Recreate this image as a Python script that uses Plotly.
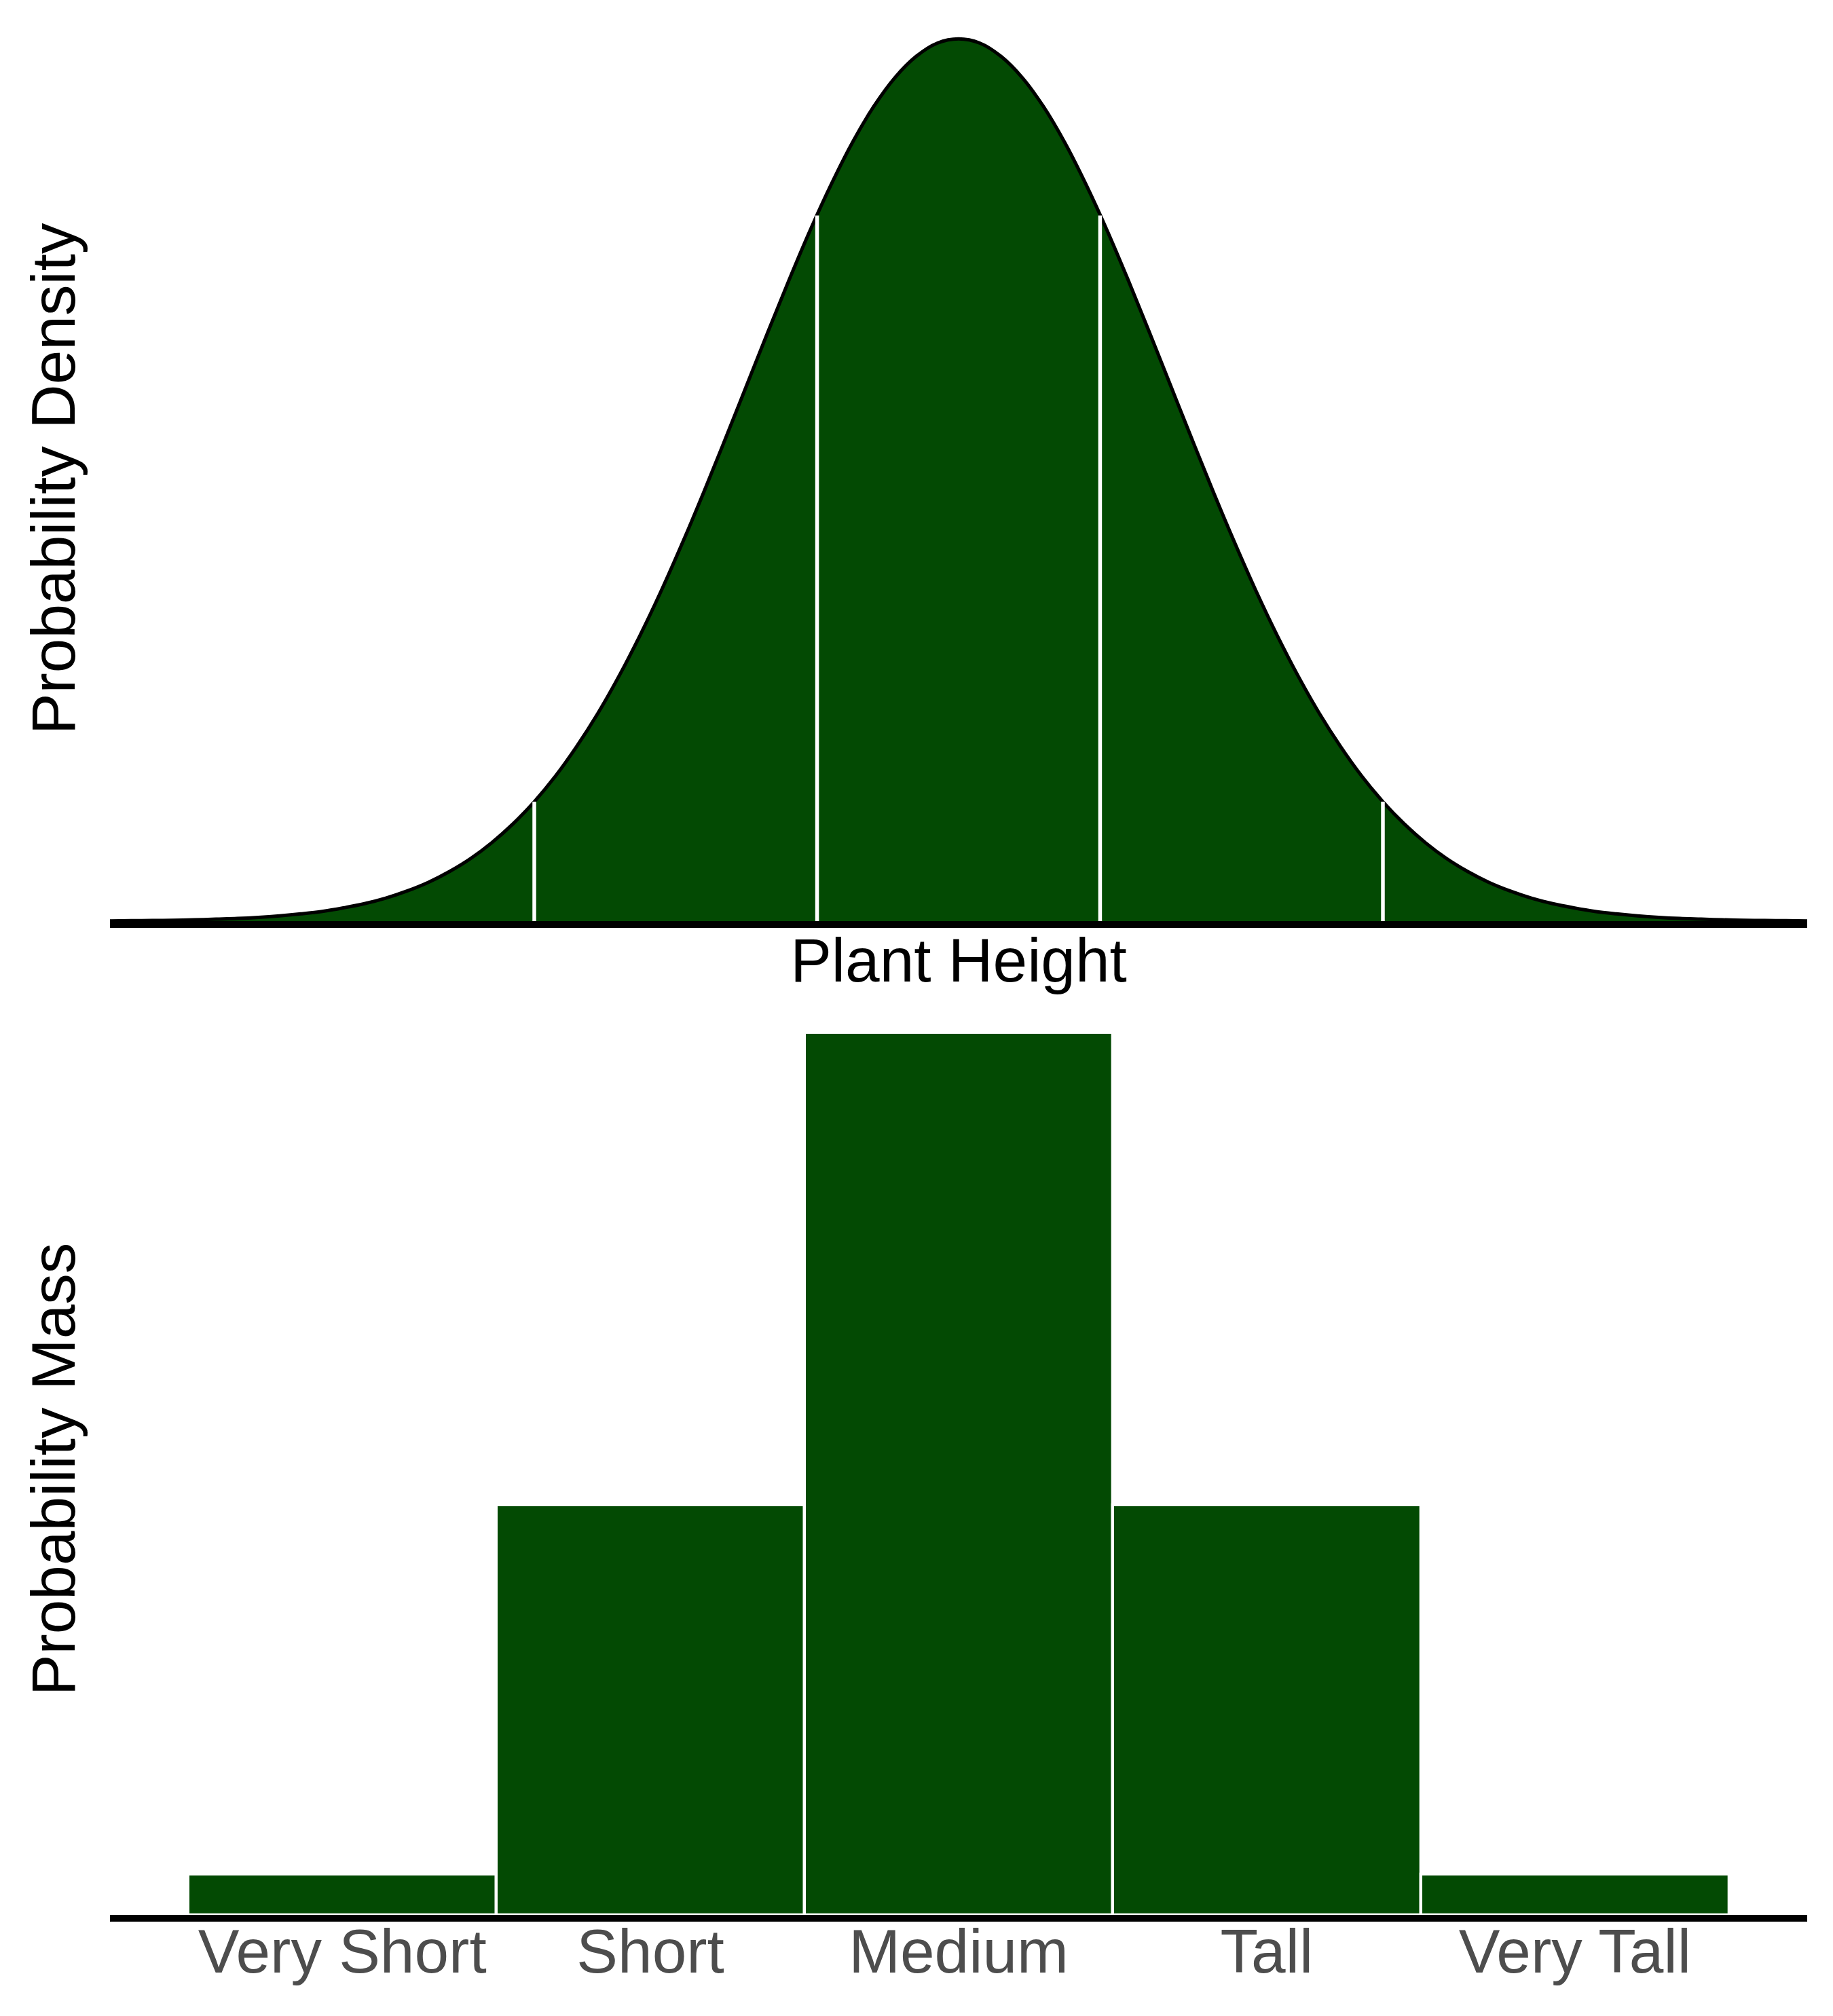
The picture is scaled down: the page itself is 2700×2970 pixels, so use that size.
import plotly.graph_objects as go

# ---- data ----
# standardized plant height and probability density of the curve
height_x = [-4.0, -3.9, -3.8, -3.7, -3.6, -3.5, -3.4, -3.3, -3.2, -3.1,
            -3.0, -2.9, -2.8, -2.7, -2.6, -2.5, -2.4, -2.3, -2.2, -2.1,
            -2.0, -1.9, -1.8, -1.7, -1.6, -1.5, -1.4, -1.3, -1.2, -1.1,
            -1.0, -0.9, -0.8, -0.7, -0.6, -0.5, -0.4, -0.3, -0.2, -0.1,
            0.0,
            0.1, 0.2, 0.3, 0.4, 0.5, 0.6, 0.7, 0.8, 0.9, 1.0,
            1.1, 1.2, 1.3, 1.4, 1.5, 1.6, 1.7, 1.8, 1.9, 2.0,
            2.1, 2.2, 2.3, 2.4, 2.5, 2.6, 2.7, 2.8, 2.9, 3.0,
            3.1, 3.2, 3.3, 3.4, 3.5, 3.6, 3.7, 3.8, 3.9, 4.0]
density_y = [0.0001, 0.0002, 0.0003, 0.0004, 0.0006, 0.0009, 0.0012, 0.0017, 0.0024, 0.0033,
             0.0044, 0.0060, 0.0079, 0.0104, 0.0136, 0.0175, 0.0224, 0.0283, 0.0355, 0.0440,
             0.0540, 0.0656, 0.0790, 0.0940, 0.1109, 0.1295, 0.1497, 0.1714, 0.1942, 0.2179,
             0.2420, 0.2661, 0.2897, 0.3123, 0.3332, 0.3521, 0.3683, 0.3814, 0.3910, 0.3970,
             0.3989,
             0.3970, 0.3910, 0.3814, 0.3683, 0.3521, 0.3332, 0.3123, 0.2897, 0.2661, 0.2420,
             0.2179, 0.1942, 0.1714, 0.1497, 0.1295, 0.1109, 0.0940, 0.0790, 0.0656, 0.0540,
             0.0440, 0.0355, 0.0283, 0.0224, 0.0175, 0.0136, 0.0104, 0.0079, 0.0060, 0.0044,
             0.0033, 0.0024, 0.0017, 0.0012, 0.0009, 0.0006, 0.0004, 0.0003, 0.0002, 0.0001]
# category cut points and the density at each cut
cut_x = [-2.0, -0.667, 0.667, 2.0]
cut_y = [0.054, 0.319, 0.319, 0.054]
# categories and probability mass
categories = ["Very Short", "Short", "Medium", "Tall", "Very Tall"]
mass = [0.023, 0.23, 0.495, 0.23, 0.023]

GREEN = "#034a03"
FONT = "Liberation Sans, Arial, Helvetica, sans-serif"
FS = 91
W, H = 2700, 2970

fig = go.Figure()

# density fill
fig.add_trace(go.Scatter(x=height_x, y=density_y, mode="lines", fill="tozeroy",
                         fillcolor=GREEN, line=dict(width=0, shape="spline", color=GREEN),
                         hoverinfo="skip", showlegend=False, xaxis="x", yaxis="y"))
# density outline
fig.add_trace(go.Scatter(x=height_x, y=density_y, mode="lines",
                         line=dict(width=5, shape="spline", color="black"),
                         showlegend=False, xaxis="x", yaxis="y"))
# white cut lines
cx, cy = [], []
for xv, yv in zip(cut_x, cut_y):
    cx += [xv, xv, None]
    cy += [0, yv, None]
fig.add_trace(go.Scatter(x=cx, y=cy, mode="lines", line=dict(width=5.5, color="white"),
                         hoverinfo="skip", showlegend=False, xaxis="x", yaxis="y"))

# probability mass bars
fig.add_trace(go.Bar(x=categories, y=mass, width=1.0, marker=dict(color=GREEN,
                     line=dict(color="white", width=4.3)),
                     showlegend=False, xaxis="x2", yaxis="y2"))

top_dom = [1 - 1349 / H, 1 - 45.7 / H]
bot_dom = [1 - 2813 / H, 1 - 1500 / H]

fig.update_layout(
    width=W, height=H,
    margin=dict(l=154, r=46, t=0, b=0),
    paper_bgcolor="white", plot_bgcolor="white",
    font=dict(family=FONT, size=FS, color="black"),
    bargap=0,
    xaxis=dict(domain=[0, 1], range=[-4, 4], showgrid=False, zeroline=False,
               showticklabels=False, ticks="", showline=True, linecolor="black",
               linewidth=10, anchor="y",
               title=dict(text="Plant Height", font=dict(size=FS, color="black"), standoff=20)),
    yaxis=dict(domain=top_dom, range=[0, 0.4], showgrid=False, zeroline=False,
               showticklabels=False, ticks="", showline=False, anchor="x",
               title=dict(text="Probability Density", font=dict(size=FS, color="black"),
                          standoff=20)),
    xaxis2=dict(domain=[0, 1], range=[-0.754, 4.754], showgrid=False, zeroline=False,
                ticks="", showline=True, linecolor="black", linewidth=10, anchor="y2",
                tickfont=dict(size=FS, color="#4d4d4d"), ticklabelstandoff=-34),
    yaxis2=dict(domain=bot_dom, range=[0, 0.5], showgrid=False, zeroline=False,
                showticklabels=False, ticks="", showline=False, anchor="x2",
                title=dict(text="Probability Mass", font=dict(size=FS, color="black"),
                           standoff=20)),
)

fig.write_html("out.html")
